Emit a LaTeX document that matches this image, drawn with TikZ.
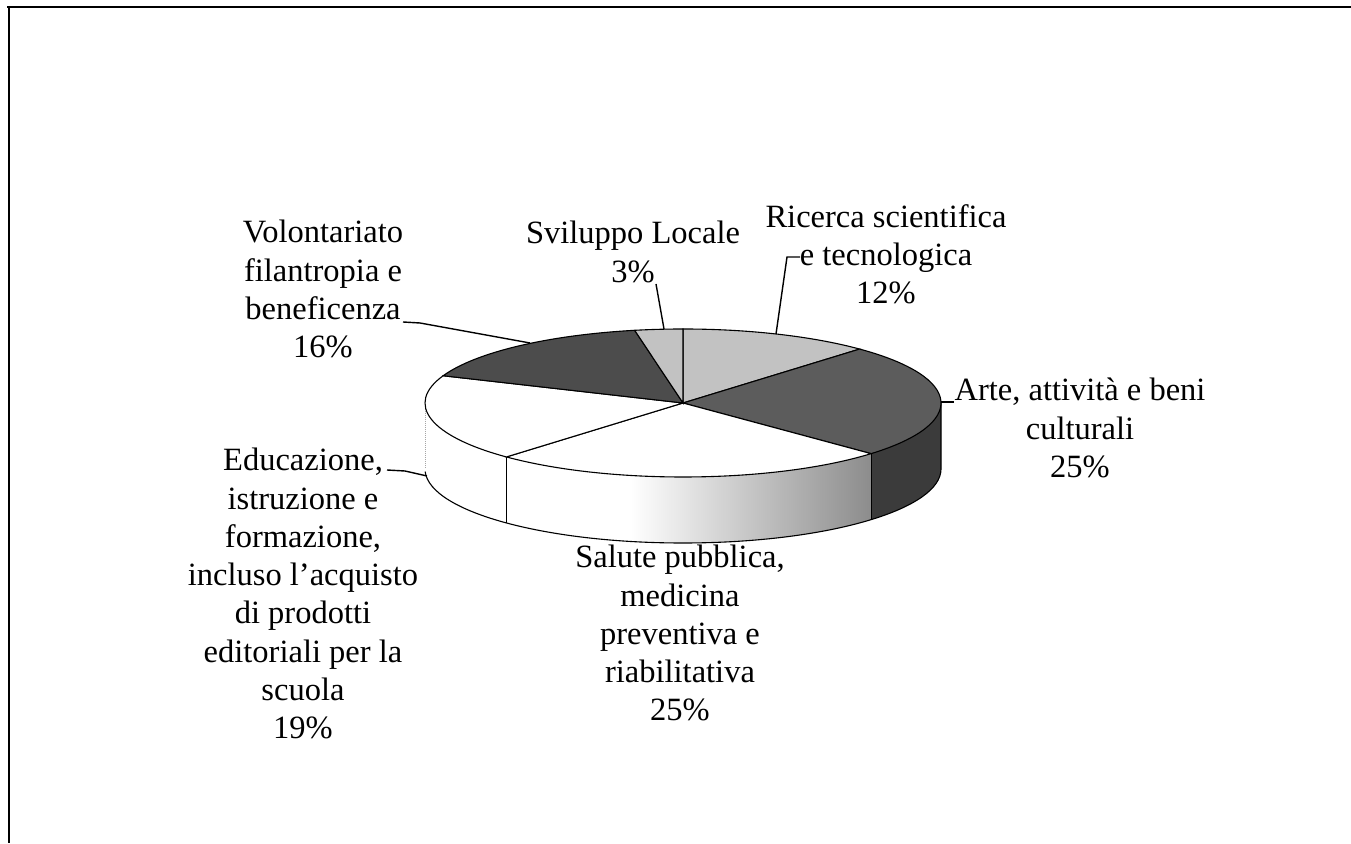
\documentclass[tikz,border=0pt]{standalone}
\usepackage{fontspec}
\setmainfont{Liberation Serif}
\usetikzlibrary{calc}
\definecolor{ltgray}{gray}{0.76}
\definecolor{artop}{gray}{0.36}
\definecolor{artside}{gray}{0.23}
\definecolor{voltop}{gray}{0.30}
\pgfdeclarehorizontalshading{salute}{100bp}{color(0bp)=(white); color(25bp)=(white); color(42bp)=(white); color(58bp)=(black!22); color(75bp)=(black!45); color(100bp)=(black!45)}
\begin{document}
\begin{tikzpicture}[x=1pt,y=1pt,
  lbl/.style={font=\fontsize{32.5}{38.3}\selectfont, align=center, anchor=north, inner sep=0pt},
  leader/.style={line width=1.4pt, black},
  edge/.style={line width=1.1pt, black},
  ell/.style={x radius=258, y radius=74}]
\useasboundingbox (0,0) rectangle (1351,843);
\fill[white] (0,0) rectangle (1351,843);
% frame
\draw[line width=2pt] (7,836) -- (1351,836);
\draw[line width=2.5pt] (9,837) -- (9,0);

\coordinate (C) at (683,440);
\coordinate (CB) at (683,374);

% side faces
\fill[artside] (C) ++(-43.2:258 and 74) arc[start angle=-43.2,end angle=0,ell] -- ++(0,-66) arc[start angle=0,end angle=-43.2,ell] -- cycle;
\shade[shading=salute] (C) ++(-133.2:258 and 74) arc[start angle=-133.2,end angle=-43.2,ell] -- ++(0,-66) arc[start angle=-43.2,end angle=-133.2,ell] -- cycle;
% side outlines
\draw[edge] (CB) ++(-178:258 and 74) arc[start angle=-178,end angle=0,ell] -- ++(0,66);
\draw[edge] (C) ++(-43.2:258 and 74) -- ++(0,-66);
\draw[edge] (C) ++(-133.2:258 and 74) -- ++(0,-66);
\draw[black!35, densely dotted, line width=1pt] (C) ++(-180:258 and 74) -- ++(0,-66);

% top slices
\filldraw[edge, fill=ltgray] (C) -- ++(46.8:258 and 74) arc[start angle=46.8,end angle=90,ell] -- cycle;
\filldraw[edge, fill=artop] (C) -- ++(-43.2:258 and 74) arc[start angle=-43.2,end angle=46.8,ell] -- cycle;
\filldraw[edge, fill=white] (C) -- ++(-133.2:258 and 74) arc[start angle=-133.2,end angle=-43.2,ell] -- cycle;
\filldraw[edge, fill=white] (C) -- ++(158.4:258 and 74) arc[start angle=158.4,end angle=226.8,ell] -- cycle;
\filldraw[edge, fill=voltop] (C) -- ++(100.8:258 and 74) arc[start angle=100.8,end angle=158.4,ell] -- cycle;
\filldraw[edge, fill=ltgray] (C) -- ++(90:258 and 74) arc[start angle=90,end angle=100.8,ell] -- cycle;

% labels
\node[lbl] (vol) at (323,623) {Volontariato\\filantropia e\\beneficenza\\16\%};
\node[lbl] (svi) at (633,622) {Sviluppo Locale\\3\%};
\node[lbl] (ric) at (886,639) {Ricerca scientifica\\e tecnologica\\12\%};
\node[lbl] (art) at (1080,465) {Arte, attività e beni\\culturali\\25\%};
\node[lbl] (sal) at (680,298) {Salute pubblica,\\medicina\\preventiva e\\riabilitativa\\25\%};
\node[lbl] (edu) at (303,395) {Educazione,\\istruzione e\\formazione,\\incluso l'acquisto\\di prodotti\\editoriali per la\\scuola\\19\%};

% leader points
\coordinate (volA) at (403,521);
\coordinate (volB) at (420,520);
\coordinate (volP) at (530,500);
\coordinate (sviA) at (656,559);
\coordinate (sviP) at (664,514);
\coordinate (ricA) at (800,586);
\coordinate (ricB) at (787,586);
\coordinate (ricP) at (776,509);
\coordinate (artP) at (941,441);
\coordinate (eduA) at (387,373);
\coordinate (eduB) at (405,372);
\coordinate (eduP) at (427,367);

\draw[leader] (volA) -- (volB) -- (volP);
\draw[leader] (sviA) -- (sviP);
\draw[leader] (ricA) -- (ricB) -- (ricP);
\draw[leader] (artP) -- (artP -| art.west);
\draw[leader] (eduA) -- (eduB) -- (eduP);
\end{tikzpicture}
\end{document}
